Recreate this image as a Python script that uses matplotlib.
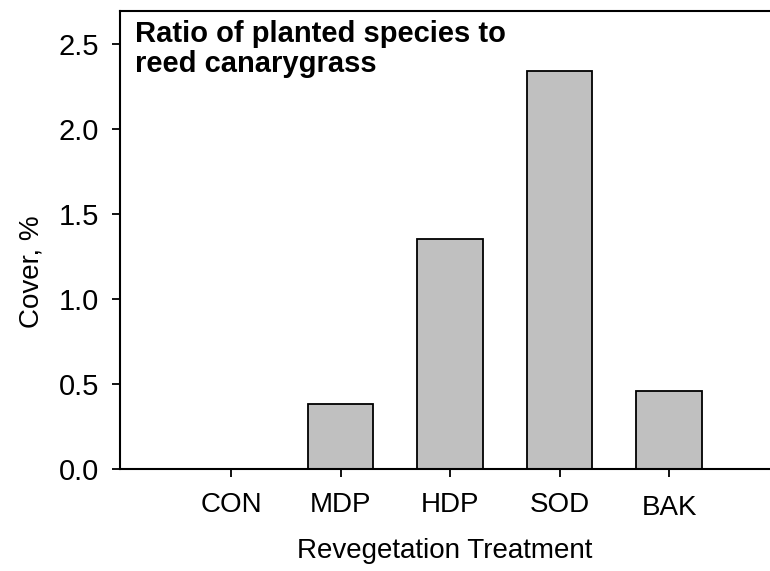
import matplotlib
matplotlib.use("Agg")
import matplotlib.pyplot as plt
import matplotlib.transforms as mtransforms

categories = ["CON", "MDP", "HDP", "SOD", "BAK"]
values = [0.0, 0.38, 1.35, 2.34, 0.46]
yticks = [0.0, 0.5, 1.0, 1.5, 2.0, 2.5]
ytick_labels = ["0.0", "0.5", "1.0", "1.5", "2.0", "2.5"]

plt.rcParams['font.family'] = ['Liberation Sans', 'DejaVu Sans']

fig = plt.figure(figsize=(7.7, 5.71), dpi=100)
ax = fig.add_axes([120/770, 102/571, 650/770, 458/571])

x = list(range(len(categories)))
ax.bar(x, values, width=0.6, color="#c0c0c0", edgecolor="black", linewidth=1.3, zorder=2)

ax.set_xlim(-1.014, 4.922)
ax.set_ylim(0, 2.694)
ax.set_yticks(yticks)
ax.set_yticklabels(ytick_labels)
ax.set_xticks(x)
ax.set_xticklabels(categories)

for s in ["left", "bottom", "top"]:
    ax.spines[s].set_linewidth(1.5)
ax.spines["right"].set_visible(False)

ax.tick_params(axis="both", direction="out", length=6, width=1.3, color="black")
ax.tick_params(axis="x", pad=10.5, labelsize=20)
ax.tick_params(axis="y", pad=9, labelsize=21)

# BAK label sits slightly lower in the reference
lbl = ax.get_xticklabels()[-1]
lbl.set_transform(lbl.get_transform() + mtransforms.ScaledTranslation(0, -3/100, fig.dpi_scale_trans))

ax.set_xlabel("Revegetation Treatment", fontsize=20, labelpad=12)
ax.set_ylabel("Cover, %", fontsize=20)
ax.yaxis.set_label_coords(-0.116, 0.43)

ax.text(0.023, 0.981, "Ratio of planted species to\nreed canarygrass", transform=ax.transAxes,
        fontsize=21, fontweight="bold", va="top", ha="left", linespacing=1.1)

fig.savefig("out.png", dpi=100)
